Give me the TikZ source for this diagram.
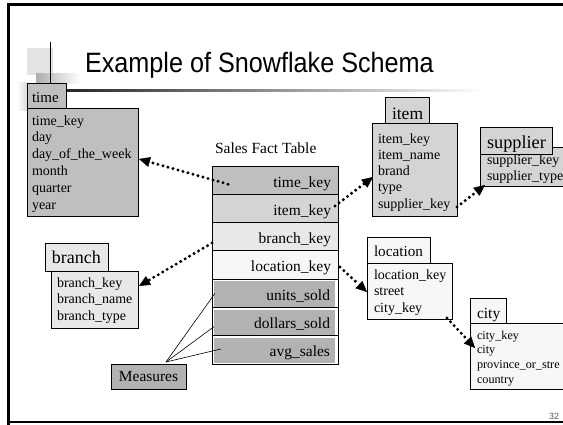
\documentclass[tikz,border=0pt]{standalone}
\usepackage{fontspec}
\usepackage{graphicx}
\setmainfont{Liberation Serif}
\newfontfamily\sansfont{Liberation Sans}
\usetikzlibrary{arrows.meta,calc}
\definecolor{timegray}{gray}{0.75}
\definecolor{itemgray}{gray}{0.83}
\definecolor{branchgray}{gray}{0.91}
\definecolor{locgray}{gray}{0.97}
\definecolor{measgray}{gray}{0.70}
\newcommand\fsz[1]{\fontsize{#1}{#1}\selectfont}
\tikzset{
  box/.style={draw=black, line width=0.8pt, inner sep=0pt, outer sep=0pt, anchor=north west},
  txt/.style={anchor=base west, inner sep=0pt, outer sep=0pt},
  rtxt/.style={anchor=base east, inner sep=0pt, outer sep=0pt, font=\fsz{15.5}},
  dotarrow/.style={line width=3.3pt, dash pattern=on 0pt off 5.2pt, line cap=round,
    -{Triangle[length=11pt,width=10pt,line width=0.4pt]}},
  measline/.style={line width=0.6pt}
}
\begin{document}
\begin{tikzpicture}[x=1pt,y=-1pt]
\useasboundingbox (0,0) rectangle (563,424);
\clip (0,0) rectangle (563,424);
\fill[white] (0,0) rectangle (563,424);
% frame
\draw[line width=2.5pt] (8.5,440) -- (8.5,4.5) -- (580,4.5);
\draw[line width=2.2pt] (8.5,422) -- (580,422);
% title decoration
\fill[gray!22] (27,48) rectangle (53,75);
\shade[left color=gray!65, right color=white] (36,73) rectangle (80,83);
\shade[left color=white, right color=gray!30] (17,82) rectangle (27,110);
\draw[line width=1pt] (50,42) -- (50,83);
\shade[left color=black!85, right color=white] (66,89.7) rectangle (485,91.5);
\node[txt, font=\sansfont\fsz{28}] (title) at (85,72) {\scalebox{0.9}[1]{Example of Snowflake Schema}};
% time
\node[box, fill=timegray, minimum width=111pt, minimum height=108pt] (timebody) at (27,108) {};
\node[box, fill=timegray, minimum width=39pt, minimum height=25pt] (timetab) at (27,83) {};
\node[txt, font=\fsz{15}] (timetabtxt) at (32,102) {time};
\foreach \t [count=\i] in {time\_key,day,day\_of\_the\_week,month,quarter,year}
  \node[txt, font=\fsz{14}] (time-\i) at (32,{125+16.8*(\i-1)}) {\t};
% fact table
\node[txt, font=\fsz{15.5}] (facttitle) at (215,153) {Sales Fact Table};
\foreach \t/\c [count=\i] in {time\_key/timegray,item\_key/itemgray,branch\_key/branchgray,location\_key/locgray}{
  \node[box, line width=1pt, fill=\c, minimum width=126pt, minimum height=28.3pt] (row\i) at (212,{166+28.3*(\i-1)}) {};
  \node[rtxt] (rowtxt\i) at (331,{166+28.3*(\i-1)+21}) {\t};
}
\foreach \t [count=\j from 5] in {units\_sold,dollars\_sold,avg\_sales}{
  \node[box, line width=1pt, fill=white, minimum width=126pt, minimum height=28.3pt] (row\j) at (212,{166+28.3*(\j-1)}) {};
  \fill[measgray] ([shift={(2.2pt,-2.2pt)}]row\j.north west) rectangle ([shift={(-3pt,1pt)}]row\j.south east);
  \node[rtxt] (rowtxt\j) at (330,{166+28.3*(\j-1)+21}) {\t};
}
% item
\node[box, fill=itemgray, minimum width=85pt, minimum height=93pt] (itembody) at (372,123) {};
\node[box, fill=itemgray, minimum width=44pt, minimum height=26pt] (itemtab) at (385,97) {};
\node[txt, font=\fsz{17.5}] (itemtabtxt) at (392,119) {item};
\foreach \t [count=\i] in {item\_key,item\_name,brand,type,supplier\_key}
  \node[txt, font=\fsz{14}] (item-\i) at (378,{143+16.3*(\i-1)}) {\t};
% supplier
\node[box, fill=itemgray, minimum width=95pt, minimum height=39pt] (supbody) at (480,147) {};
\node[box, fill=itemgray, minimum width=72pt, minimum height=27pt] (suptab) at (480,127) {};
\node[txt, font=\fsz{18.3}] (suptabtxt) at (487,148) {supplier};
\node[txt, font=\fsz{14}] (sup-1) at (487,164) {supplier\_key};
\node[txt, font=\fsz{14}] (sup-2) at (487,180) {supplier\_type};
% branch
\node[box, fill=branchgray, minimum width=87pt, minimum height=57pt] (branchbody) at (51,271) {};
\node[box, fill=branchgray, minimum width=63pt, minimum height=28pt] (branchtab) at (45,243) {};
\node[txt, font=\fsz{18}] (branchtabtxt) at (52,263) {branch};
\foreach \t [count=\i] in {branch\_key,branch\_name,branch\_type}
  \node[txt, font=\fsz{14}] (branch-\i) at (57,{287+16.5*(\i-1)}) {\t};
% location
\node[box, fill=locgray, minimum width=85pt, minimum height=56pt] (locbody) at (367,263) {};
\node[box, fill=locgray, minimum width=63pt, minimum height=26pt] (loctab) at (367,237) {};
\node[txt, font=\fsz{15.2}] (loctabtxt) at (374,256) {location};
\foreach \t [count=\i] in {location\_key,street,city\_key}
  \node[txt, font=\fsz{14}] (loc-\i) at (374,{279+16.5*(\i-1)}) {\t};
% city
\node[box, fill=locgray, minimum width=110pt, minimum height=66pt] (citybody) at (470,323) {};
\node[box, fill=locgray, minimum width=36pt, minimum height=25pt] (citytab) at (470,298) {};
\node[txt, font=\fsz{15.5}] (citytabtxt) at (477,318) {city};
\foreach \t [count=\i] in {city\_key,city,province\_or\_stre,country}
  \node[txt, font=\fsz{12.2}] (city-\i) at (477,{339+14.7*(\i-1)}) {\t};
% measures
\node[box, fill=measgray, minimum width=75pt, minimum height=25pt] (meas) at (111,364) {};
\node[inner sep=0pt, font=\fsz{15.4}] (meastxt) at (meas.center) {Measures};
\coordinate (mtop) at ([xshift=17.5pt,yshift=2pt]meas.north);
\draw[measline] (mtop) -- ([xshift=3pt]row5.west);
\draw[measline] (mtop) -- ([xshift=2pt,yshift=-5pt]row6.west);
\draw[measline] (mtop) -- ([xshift=9pt,yshift=1pt]row7.west);
% arrows
\draw[dotarrow] ([xshift=16pt,yshift=-4pt]row1.west) -- ([xshift=1pt,yshift=3pt]timebody.east);
\draw[dotarrow] ([xshift=-3pt,yshift=2.5pt]row2.east) -- ([xshift=1pt,yshift=-7.5pt]itembody.west);
\draw[dotarrow] ([yshift=9pt]itembody.south east) -- ([xshift=5pt,yshift=1pt]supbody.south west);
\draw[dotarrow] ([yshift=-6.25pt]row3.west) -- ([xshift=1pt,yshift=-15pt]branchbody.north east);
\draw[dotarrow] ([xshift=2pt,yshift=-2pt]row4.east) -- ([yshift=-1pt]locbody.west);
\draw[dotarrow] ([xshift=-5pt,yshift=1pt]locbody.south east) -- ([xshift=5pt,yshift=8pt]citybody.west);
% page number
\node[txt, font=\sansfont\fsz{9}, text=gray!70!black] (pnum) at (549,419) {32};
\end{tikzpicture}
\end{document}
